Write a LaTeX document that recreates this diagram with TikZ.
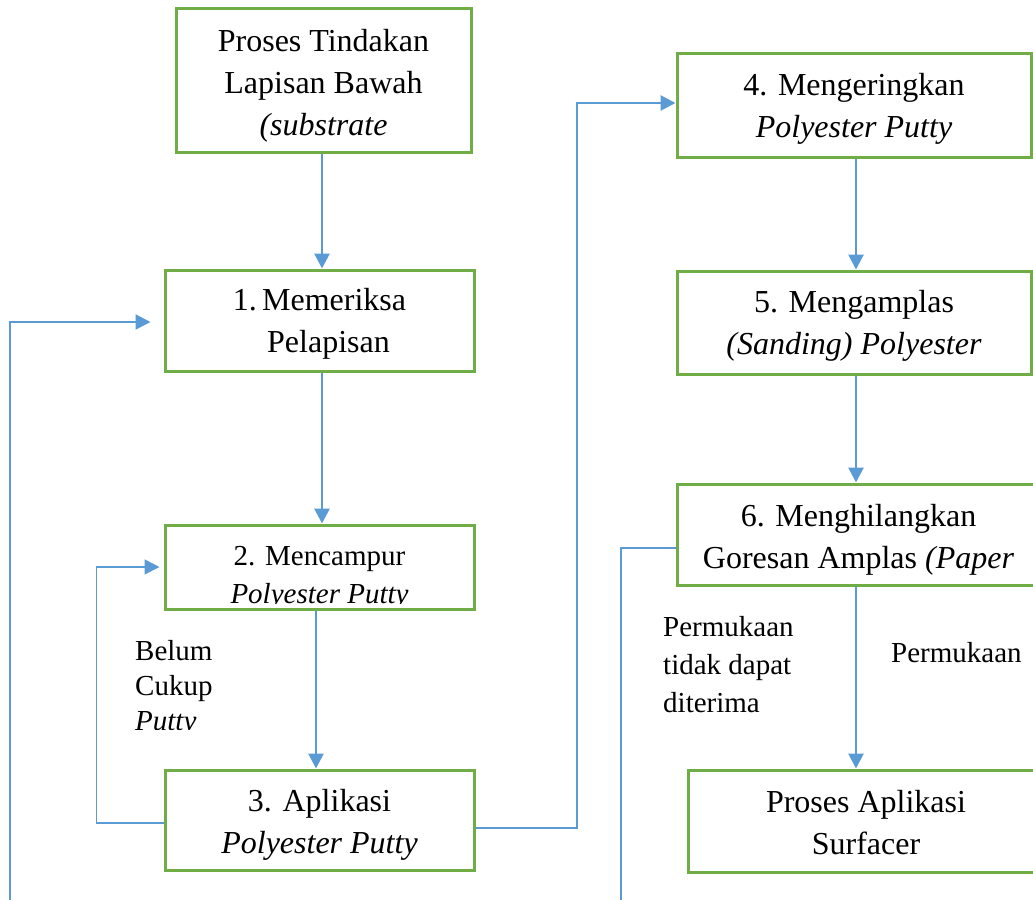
\documentclass[tikz,border=0pt]{standalone}
\usepackage{fontspec}
\setmainfont{Liberation Serif}
\usetikzlibrary{arrows.meta}
\definecolor{boxgreen}{HTML}{70AD47}
\definecolor{arrblue}{HTML}{5B9BD5}
\tikzset{
  box/.style={draw=boxgreen, line width=3pt, fill=white, rectangle, inner sep=0pt},
  btxt/.style={inner sep=0pt, align=center, font=\fontsize{32}{42}\selectfont},
  arr/.style={draw=arrblue, line width=2.8pt, -{Triangle[length=15pt,width=15pt]}},
  thinarr/.style={draw=arrblue, line width=1.7pt, -{Triangle[length=15pt,width=15pt]}},
  thinline/.style={draw=arrblue, line width=1.7pt},
  lbl/.style={inner sep=0pt, align=left, anchor=north west, font=\fontsize{29}{38}\selectfont},
}
\begin{document}
\begin{tikzpicture}[x=1pt,y=-1pt]
\useasboundingbox (0,0) rectangle (1033,900);
\clip (0,0) rectangle (1033,900);

% boxes
\node[box, minimum width=295, minimum height=144] (b0) at (323.5,80) {};
\node[btxt] (t0) at ([yshift=-5.5pt]b0.center) {Proses Tindakan\\Lapisan Bawah\\\textit{(substrate}};

\node[box, minimum width=309, minimum height=101] (b1) at (319.5,320.5) {};
\node[btxt] (t1) at ([yshift=-3.5pt]b1.center) {1.\,Memeriksa\\\hspace*{18pt}Pelapisan};

\node[box, minimum width=309, minimum height=84,
  path picture={
    \clip ([yshift=6pt]path picture bounding box.south west) rectangle (path picture bounding box.north east);
    \node[inner sep=0pt, align=center, font=\fontsize{29}{38}\selectfont]
    at ([yshift=-11pt]path picture bounding box.center)
    {2. Mencampur\\\textit{Polyester Putty}};}] (b2) at (319.5,567) {};

\node[box, minimum width=309, minimum height=100] (b3) at (319.5,820) {};
\node[btxt] (t3) at ([yshift=-5pt]b3.center) {3. Aplikasi\\\textit{Polyester Putty}};

\node[box, minimum width=354, minimum height=104] (b4) at (854,105) {};
\node[btxt] (t4) at ([yshift=-3.5pt]b4.center) {4. Mengeringkan\\\textit{Polyester Putty}};

\node[box, minimum width=354, minimum height=103] (b5) at (854,322.5) {};
\node[btxt] (t5) at ([yshift=-3.5pt]b5.center) {5. Mengamplas\\\textit{(Sanding) Polyester}};

\node[box, minimum width=363, minimum height=101] (b6) at (858.5,534.5) {};
\node[btxt] (t6) at ([yshift=-5pt]b6.center) {6. Menghilangkan\\Goresan Amplas \textit{(Paper}};

\node[box, minimum width=356, minimum height=102] (b7) at (866,821) {};
\node[btxt] (t7) at ([yshift=-1.5pt]b7.center) {Proses Aplikasi\\Surfacer};

% labels
\begin{scope}
  \clip (120,600) rectangle (260,729);
  \node[lbl, font=\fontsize{29}{35}\selectfont] (l1) at (135,640) {Belum\\Cukup\\\textit{Putty}};
\end{scope}
\node[lbl] (l2) at (663,616) {Permukaan\\tidak dapat\\diterima};
\node[lbl] (l3) at (891,642) {Permukaan};

% connectors
\draw[arr] ([xshift=-1.5pt]b0.south) -- ([xshift=-1.5pt]b0.south |- b1.north);
\draw[arr] ([xshift=2.5pt]b1.south) -- ([xshift=2.5pt]b1.south |- b2.north);
\draw[arr] ([xshift=-3.5pt]b2.south) -- ([xshift=-3.5pt]b2.south |- b3.north);

\coordinate (s1) at (10,900);
\draw[thinarr, line width=2.2pt, shorten >=13pt] (s1) |- ([yshift=-1.5pt]b1.west);

\draw[thinarr, shorten >=4pt] ([yshift=-3pt]b3.west) -- ++(-67,0) |- (b2.west);

\coordinate (k1) at (577,103);
\draw[arr] ([yshift=-8pt]b3.east) -| (k1) -- ([yshift=2pt]b4.west);

\draw[arr] ([xshift=2pt]b4.south) -- ([xshift=2pt]b4.south |- b5.north);
\draw[arr] ([xshift=2pt]b5.south) -- ([xshift=2pt]b5.south |- b6.north);
\draw[arr] ([xshift=-2.5pt]b6.south) -- ([xshift=-2.5pt]b6.south |- b7.north);

\coordinate (e2) at (621,900);
\draw[thinline] ([yshift=-13.5pt]b6.west) -| (e2);
\end{tikzpicture}
\end{document}
